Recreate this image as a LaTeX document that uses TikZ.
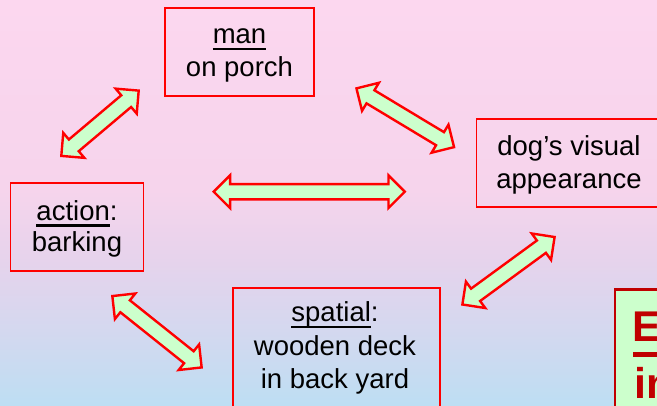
\documentclass[tikz,border=0pt]{standalone}
\usepackage{fontspec}
\setmainfont{Liberation Sans}
\usetikzlibrary{shapes.arrows,calc}

\definecolor{boxred}{HTML}{FF0000}
\definecolor{arrowfill}{HTML}{CCFFCC}
\definecolor{keyred}{HTML}{C00000}
\definecolor{bgtop}{HTML}{FCD7EF}
\definecolor{bgupper}{HTML}{F6D4EC}
\definecolor{bgmid}{HTML}{E6D3EC}
\definecolor{bglow}{HTML}{D4D8EF}
\definecolor{bgbot}{HTML}{BDDEF3}

% underline one word with a rule set a little below the baseline
\newsavebox\ulbox
\newcommand\ulword[1]{\sbox\ulbox{#1}\rlap{\rule[-6.5pt]{\wd\ulbox}{2.2pt}}\usebox\ulbox}

\tikzset{
  framebox/.style={draw=boxred, line width=1.8pt, rectangle, inner sep=0pt},
  txt/.style={anchor=base, inner sep=0pt, font=\fontsize{27.5}{33}\selectfont},
  keytxt/.style={anchor=base west, inner sep=0pt, text=keyred,
    font=\fontsize{43}{52}\selectfont\bfseries},
  linkarrow/.style={double arrow, draw=boxred, fill=arrowfill, line width=2.4pt,
    inner xsep=0pt, inner ysep=6.45pt, minimum width=0pt,
    double arrow head extend=8.7pt, double arrow tip angle=90},
}

% two-headed block arrow between two named coordinates
\newcommand\linkarrow[3]{%
  \path let \p1=($(#2)-(#1)$), \n1={veclen(\x1,\y1)-3.4}, \n2={atan2(\y1,\x1)} in
    node[linkarrow, name=#3, minimum height=\n1, rotate=\n2] at ($(#1)!0.5!(#2)$) {};}

\begin{document}
\begin{tikzpicture}[x=1pt, y=-1pt]
  \useasboundingbox (0,0) rectangle (657,405);
  \clip (0,0) rectangle (657,405);

  % background: pink at the top fading to light blue at the bottom
  \shade[top color=bgtop, bottom color=bgupper] (0,-1) rectangle (657,190.5);
  \shade[top color=bgupper, bottom color=bgmid] (0,190) rectangle (657,260.5);
  \shade[top color=bgmid, bottom color=bglow] (0,260) rectangle (657,330.5);
  \shade[top color=bglow, bottom color=bgbot] (0,330) rectangle (657,406);

  % boxes
  \node[framebox, minimum width=149pt, minimum height=88pt] (man) at (239.5,52) {};
  \node[txt] (man1) at (239.5,43.3) {\ulword{man}};
  \node[txt] (man2) at (239.5,76) {on porch};

  \node[framebox, minimum width=188pt, minimum height=88pt, anchor=north west] (dog) at (475.5,118) {};
  \node[txt] (dog1) at (569,155) {dog’s visual};
  \node[txt] (dog2) at (569,188.3) {appearance};

  \node[framebox, minimum width=133pt, minimum height=88pt] (act) at (77,227) {};
  \node[txt] (act1) at (77,220) {\ulword{action}:};
  \node[txt] (act2) at (77,251.7) {barking};

  \node[framebox, minimum width=207pt, minimum height=140pt, anchor=north west] (spat) at (231.7,286.7) {};
  \node[txt] (spat1) at (335,321.7) {\ulword{spatial}:};
  \node[txt] (spat2) at (335,355) {wooden deck};
  \node[txt] (spat3) at (335,388.3) {in back yard};

  % green key box at the lower right
  \node[draw=keyred, fill=arrowfill, line width=2.2pt, rectangle, inner sep=0pt,
        minimum width=80pt, minimum height=140pt, anchor=north west] (key) at (613.5,288.3) {};
  \node[keytxt] (key1) at (632,341.7) {E};
  \fill[keyred] ($(key1.base west)+(1,10.3)$) rectangle ($(key1.base west)+(40,14.8)$);
  \node[keytxt] (key2) at (634,398) {in};

  % arrow end points
  \coordinate (a1) at (60,157);    \coordinate (b1) at (140,89.5);
  \coordinate (a2) at (355,87.5);  \coordinate (b2) at (455.5,148);
  \coordinate (a3) at (212,191.7); \coordinate (b3) at (406.5,191.7);
  \coordinate (a4) at (461,305.5); \coordinate (b4) at (556,236);
  \coordinate (a5) at (111,295);   \coordinate (b5) at (203,368.5);

  \linkarrow{a1}{b1}{manact}
  \linkarrow{a2}{b2}{mandog}
  \linkarrow{a3}{b3}{actdog}
  \linkarrow{a4}{b4}{dogspat}
  \linkarrow{a5}{b5}{actspat}
\end{tikzpicture}
\end{document}
